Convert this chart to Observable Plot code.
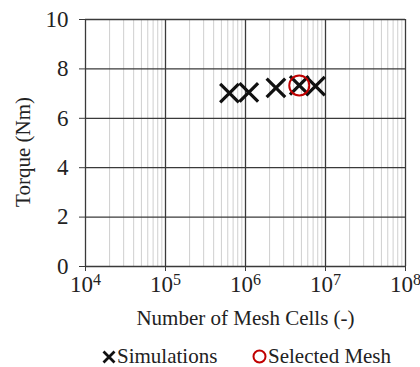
<!DOCTYPE html>
<html><head><meta charset="utf-8">
<script src="https://cdn.jsdelivr.net/npm/d3@7"></script>
<script src="https://cdn.jsdelivr.net/npm/@observablehq/plot@0.6"></script>
<style>
body{margin:0;background:#fff;font-family:'Liberation Serif',serif;}
svg text{font-family:'Liberation Serif',serif;fill:#222;font-size:21px}
g[aria-label="y-axis tick label"] text, g[aria-label="x-axis tick label"] text{font-size:23px}
#legend{position:relative;height:29px;font-family:'Liberation Serif',serif;font-size:21px;color:#222}
#legend span{position:absolute;top:6px;display:flex;align-items:center}
</style></head><body>
<div id="chart"></div>
<div id="legend"><span style="left:102px"><svg width="14" height="14" style="margin-right:1px"><path d="M1.5,1.5L12.5,12.5M12.5,1.5L1.5,12.5" stroke="#111" stroke-width="2.8"/></svg>Simulations</span><span style="left:252px"><svg width="15" height="15" style="margin-right:1px"><circle cx="7.5" cy="7.5" r="6" fill="none" stroke="#c00000" stroke-width="2"/></svg>Selected Mesh</span></div>
<script>
const meshCells = [6.3e5, 1.1e6, 2.4e6, 4.7e6, 7.5e6];
const torque = [7.02, 7.05, 7.23, 7.33, 7.3];
const selectedCells = [4.7e6];
const selectedTorque = [7.33];
const xDecades = [1e4, 1e5, 1e6, 1e7, 1e8];
const yTicks = [0, 2, 4, 6, 8, 10];

const sims = meshCells.map((x, i) => ({x, y: torque[i]}));
const sel = selectedCells.map((x, i) => ({x, y: selectedTorque[i]}));
const minor = [];
for (let d = 0; d < xDecades.length - 1; d++) for (let k = 2; k <= 9; k++) minor.push(xDecades[d] * k);

const chart = Plot.plot({
  width: 420, height: 338,
  marginLeft: 85, marginRight: 15, marginTop: 19, marginBottom: 72,
  style: {fontFamily: "Liberation Serif, serif", fontSize: "21px", color: "#222"},
  x: {type: "log", domain: [1e4, 1e8]},
  y: {domain: [0, 10]},
  marks: [
    Plot.ruleX(minor, {stroke: "#cfcfcf", strokeWidth: 1, strokeOpacity: 1}),
    Plot.ruleX(xDecades, {stroke: "#3a3a3a", strokeWidth: 1.3}),
    Plot.ruleY(yTicks, {stroke: "#3a3a3a", strokeWidth: 1.3}),
    Plot.axisY(yTicks, {tickSize: 6, tickPadding: 11, stroke: "#3a3a3a", label: "Torque (Nm)", labelAnchor: "center", labelArrow: "none", labelOffset: 70}),
    Plot.axisX(xDecades, {tickSize: 5, tickPadding: 4, stroke: "#3a3a3a", tickFormat: d => "10^" + Math.round(Math.log10(d)), label: "Number of Mesh Cells (-)", labelAnchor: "center", labelArrow: "none", labelOffset: 58}),
    Plot.dot(sims, {x: "x", y: "y", symbol: "times", r: 8.5, stroke: "#111", strokeWidth: 3.2}),
    Plot.dot(sel, {x: "x", y: "y", r: 10, stroke: "#c00000", strokeWidth: 2, fill: "none"})
  ]
});
// render the exponent of the x tick labels as a real superscript
d3.select(chart).selectAll("text").each(function() {
  const t = this.textContent;
  const m = /^10\^(\d)$/.exec(t);
  if (m) {
    const s = d3.select(this);
    s.text("10");
    s.append("tspan").attr("dy", "-0.45em").attr("font-size", "16").text(m[1]);
  }
  if (t === "Torque (Nm)") d3.select(this).attr("dx", -9);
});
document.getElementById("chart").appendChild(chart);
</script>
</body></html>
